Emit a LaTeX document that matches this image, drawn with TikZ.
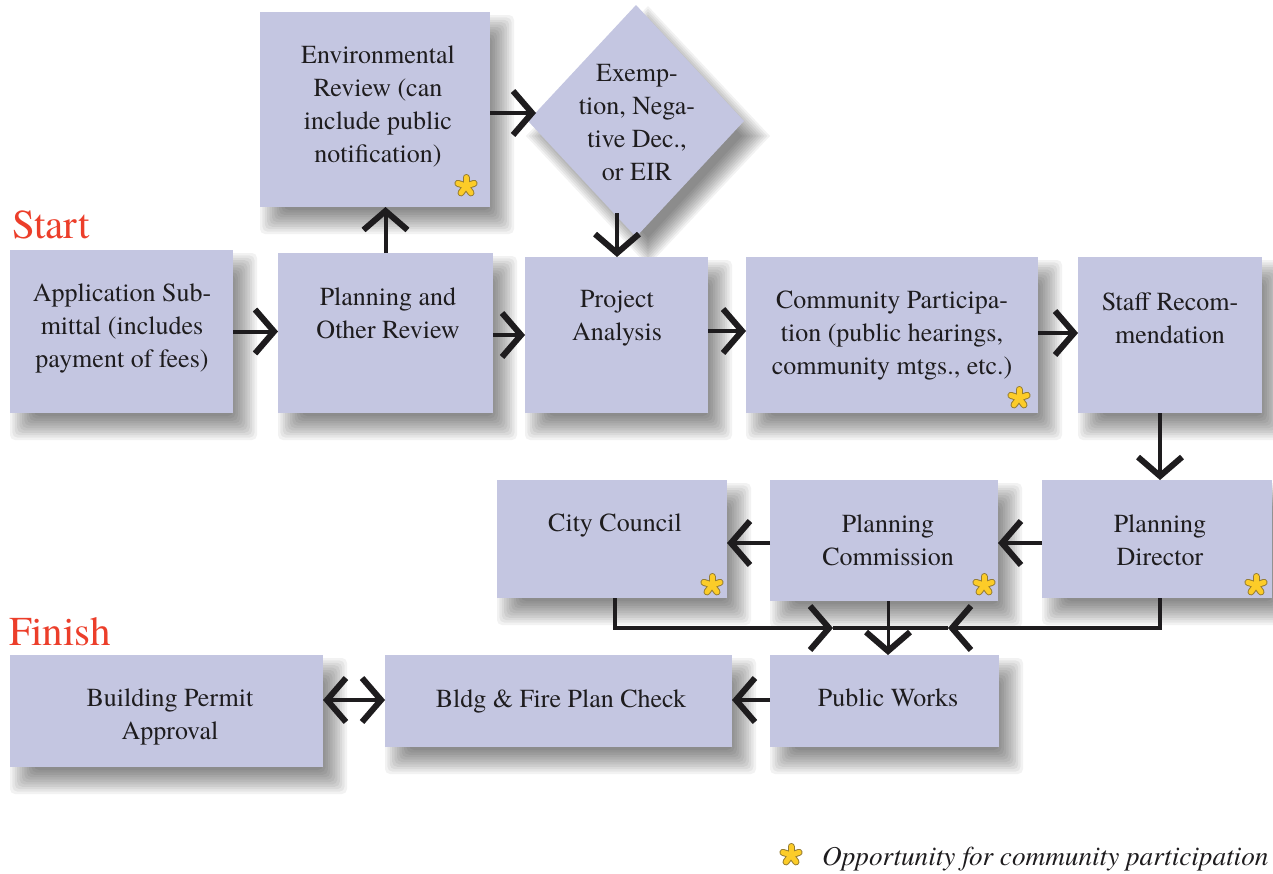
\documentclass[tikz,border=0pt]{standalone}
\usepackage{fontspec}
\setmainfont{texgyretermes}[Extension=.otf,UprightFont=*-regular,ItalicFont=*-italic,BoldFont=*-bold,BoldItalicFont=*-bolditalic]
\usetikzlibrary{arrows.meta,shapes.geometric,calc}
\pgfdeclarelayer{bg}
\pgfsetlayers{bg,main}
\definecolor{boxfill}{RGB}{196,198,225}
\definecolor{linecol}{RGB}{30,28,30}
\definecolor{txtcol}{RGB}{30,28,30}
\definecolor{startred}{RGB}{236,62,42}
\definecolor{astyel}{RGB}{252,204,40}
\definecolor{astline}{RGB}{150,125,50}
\newcommand\myshadow[1]{%
  \begin{pgfonlayer}{bg}
  \foreach \k in {0,...,10}{%
    \pgfmathsetmacro\ea{12-2.4*\k}%
    \pgfmathsetmacro\lo{12-\ea}\pgfmathsetmacro\hi{12+\ea}%
    \pgfmathsetmacro\lov{15-\ea}\pgfmathsetmacro\hiv{15+\ea}%
    \fill[black,opacity=0.05,rounded corners=5pt] ($(#1.north west)+(\lo,\lov)$) rectangle ($(#1.south east)+(\hi,\hiv)$);}
  \end{pgfonlayer}}
\newcommand\mydiashadow[1]{%
  \begin{pgfonlayer}{bg}
  \foreach \k in {0,...,10}{%
    \pgfmathsetmacro\ea{14-2.8*\k}%
    \pgfmathsetmacro\lo{12-\ea}\pgfmathsetmacro\hi{12+\ea}%
    \pgfmathsetmacro\lov{15-\ea}\pgfmathsetmacro\hiv{15+\ea}%
    \fill[black,opacity=0.05] ($(#1.north)+(12,\lov)$) -- ($(#1.east)+(\hi,15)$) -- ($(#1.south)+(12,\hiv)$) -- ($(#1.west)+(\lo,15)$) -- cycle;}
  \end{pgfonlayer}}
\begin{document}
\begin{tikzpicture}[x=1pt,y=-1pt,
  box/.style={fill=boxfill,draw=none,inner sep=0pt,outer sep=0pt,anchor=north west},
  txt/.style={font=\fontsize{26}{33}\selectfont,align=center,text=txtcol,inner sep=0pt},
  conn/.style={line width=4pt,draw=linecol,-{Straight Barb[length=19pt,width=44pt,line width=6pt]}},
  conn2/.style={line width=4pt,draw=linecol,{Straight Barb[length=19pt,width=44pt,line width=6pt]}-{Straight Barb[length=19pt,width=44pt,line width=6pt]}},
  plain/.style={line width=4pt,draw=linecol},
  bigred/.style={font=\fontsize{41}{46}\selectfont,text=startred,inner sep=0pt,anchor=base west},
  ast/.pic={
    \foreach \a in {-90,-18,-162,54,126}{\draw[line width=7pt,draw=astline,line cap=round] (0,0) -- (\a:8.5);}
    \foreach \a in {-90,-18,-162,54,126}{\draw[line width=5pt,draw=astyel,line cap=round] (0,0) -- (\a:8.5);}
  }]
\begin{pgfonlayer}{bg}
\fill[white] (0,0) rectangle (1273,873);
\end{pgfonlayer}
\useasboundingbox (0,0) rectangle (1273,873);

% boxes
\node[box,minimum width=230pt,minimum height=195pt] (env) at (260,12) {};
\node[diamond,fill=boxfill,draw=none,inner sep=0pt,outer sep=0pt,minimum width=216pt,minimum height=232pt] (dia) at (636,121) {};
\node[box,minimum width=223pt,minimum height=163pt] (app) at (10,250) {};
\node[box,minimum width=215pt,minimum height=160pt] (plan) at (278,253) {};
\node[box,minimum width=183pt,minimum height=156pt] (pa) at (525,257) {};
\node[box,minimum width=292pt,minimum height=156pt] (comm) at (746,257) {};
\node[box,minimum width=184pt,minimum height=156pt] (staff) at (1078,257) {};
\node[box,minimum width=230pt,minimum height=118pt] (cc) at (497,480) {};
\node[box,minimum width=228pt,minimum height=121pt] (pc) at (770,480) {};
\node[box,minimum width=230pt,minimum height=118pt] (pd) at (1042,480) {};
\node[box,minimum width=229pt,minimum height=92pt] (pw) at (770,655) {};
\node[box,minimum width=347pt,minimum height=92pt] (bldg) at (385,655) {};
\node[box,minimum width=313pt,minimum height=112pt] (bpa) at (10,655) {};
\foreach \n in {env,app,plan,pa,comm,staff,cc,pc,pd,pw,bldg,bpa}{\myshadow{\n}}
\mydiashadow{dia}

% texts
\node[txt] (envT) at (378,106) {Environmental\\Review (can\\include public\\notification)};
\node[txt] (diaT) at (637,123) {Exemp-\\tion, Nega-\\tive Dec.,\\or EIR};
\node[txt] (appT) at (122,328) {Application Sub-\\mittal (includes\\payment of fees)};
\node[txt] (planT) at (388,313) {Planning and\\Other Review};
\node[txt] (paT) at (617,318) {Project\\Analysis};
\node[txt] (commT) at (892,336) {Community Participa-\\tion (public hearings,\\community mtgs., etc.)};
\node[txt] (staffT) at (1170,318) {Staff Recom-\\mendation};
\node[txt] (ccT) at (615,525) {City Council};
\node[txt] (pcT) at (888,540) {Planning\\Commission};
\node[txt] (pdT) at (1160,540) {Planning\\Director};
\node[txt] (pwT) at (888,698) {Public Works};
\node[txt] (bldgT) at (561,701) {Bldg \& Fire Plan Check};
\node[txt] (bpaT) at (170,717) {Building Permit\\Approval};

\node[bigred] (start) at (12,238) {Start};
\node[bigred] (finish) at (9,645) {Finish};

% asterisks
\pic at (466,186) {ast};
\pic at (1019,398) {ast};
\pic at (712,585) {ast};
\pic at (984,585) {ast};
\pic at (1256,585) {ast};
\pic at (791,855) {ast};
\node[font=\fontsize{27.2}{30}\selectfont\itshape,text=txtcol,inner sep=0pt,anchor=base west] (legend) at (822,865) {Opportunity for community participation};

% connectors
\coordinate (dleft) at (536,113);
\coordinate (dbot) at (617,213);
\coordinate (busL) at (833,628);
\coordinate (busR) at (948,628);
\draw[conn] (app.east) -- (app.east -| plan.west);
\draw[conn] (plan.north) -- (plan.north |- env.south);
\draw[conn] (env.east |- dleft) -- (dleft);
\draw[conn] (dbot) -- (dbot |- pa.north);
\draw[conn] (plan.east |- 0,335) -- (pa.west |- 0,335);
\draw[conn] (pa.east |- 0,331) -- (comm.west |- 0,331);
\draw[conn] (comm.east |- 0,333) -- (staff.west |- 0,333);
\draw[conn] (1160,413) -- (1160,480);
\draw[conn] (pd.west |- 0,543) -- (pc.east |- 0,543);
\draw[conn] (pc.west |- 0,543) -- (cc.east |- 0,543);
\draw[conn] (615,598) |- (busL);
\draw[plain] (busL) -- (busR);
\draw[conn] (1160,598) |- (busR);
\draw[line width=3pt,draw=linecol,-{Straight Barb[length=19pt,width=44pt,line width=6pt]}] (888,601) -- (888,655);
\draw[conn] (pw.west |- 0,700) -- (bldg.east |- 0,700);
\draw[conn2] (bpa.east |- 0,700) -- (bldg.west |- 0,700);
\end{tikzpicture}
\end{document}
